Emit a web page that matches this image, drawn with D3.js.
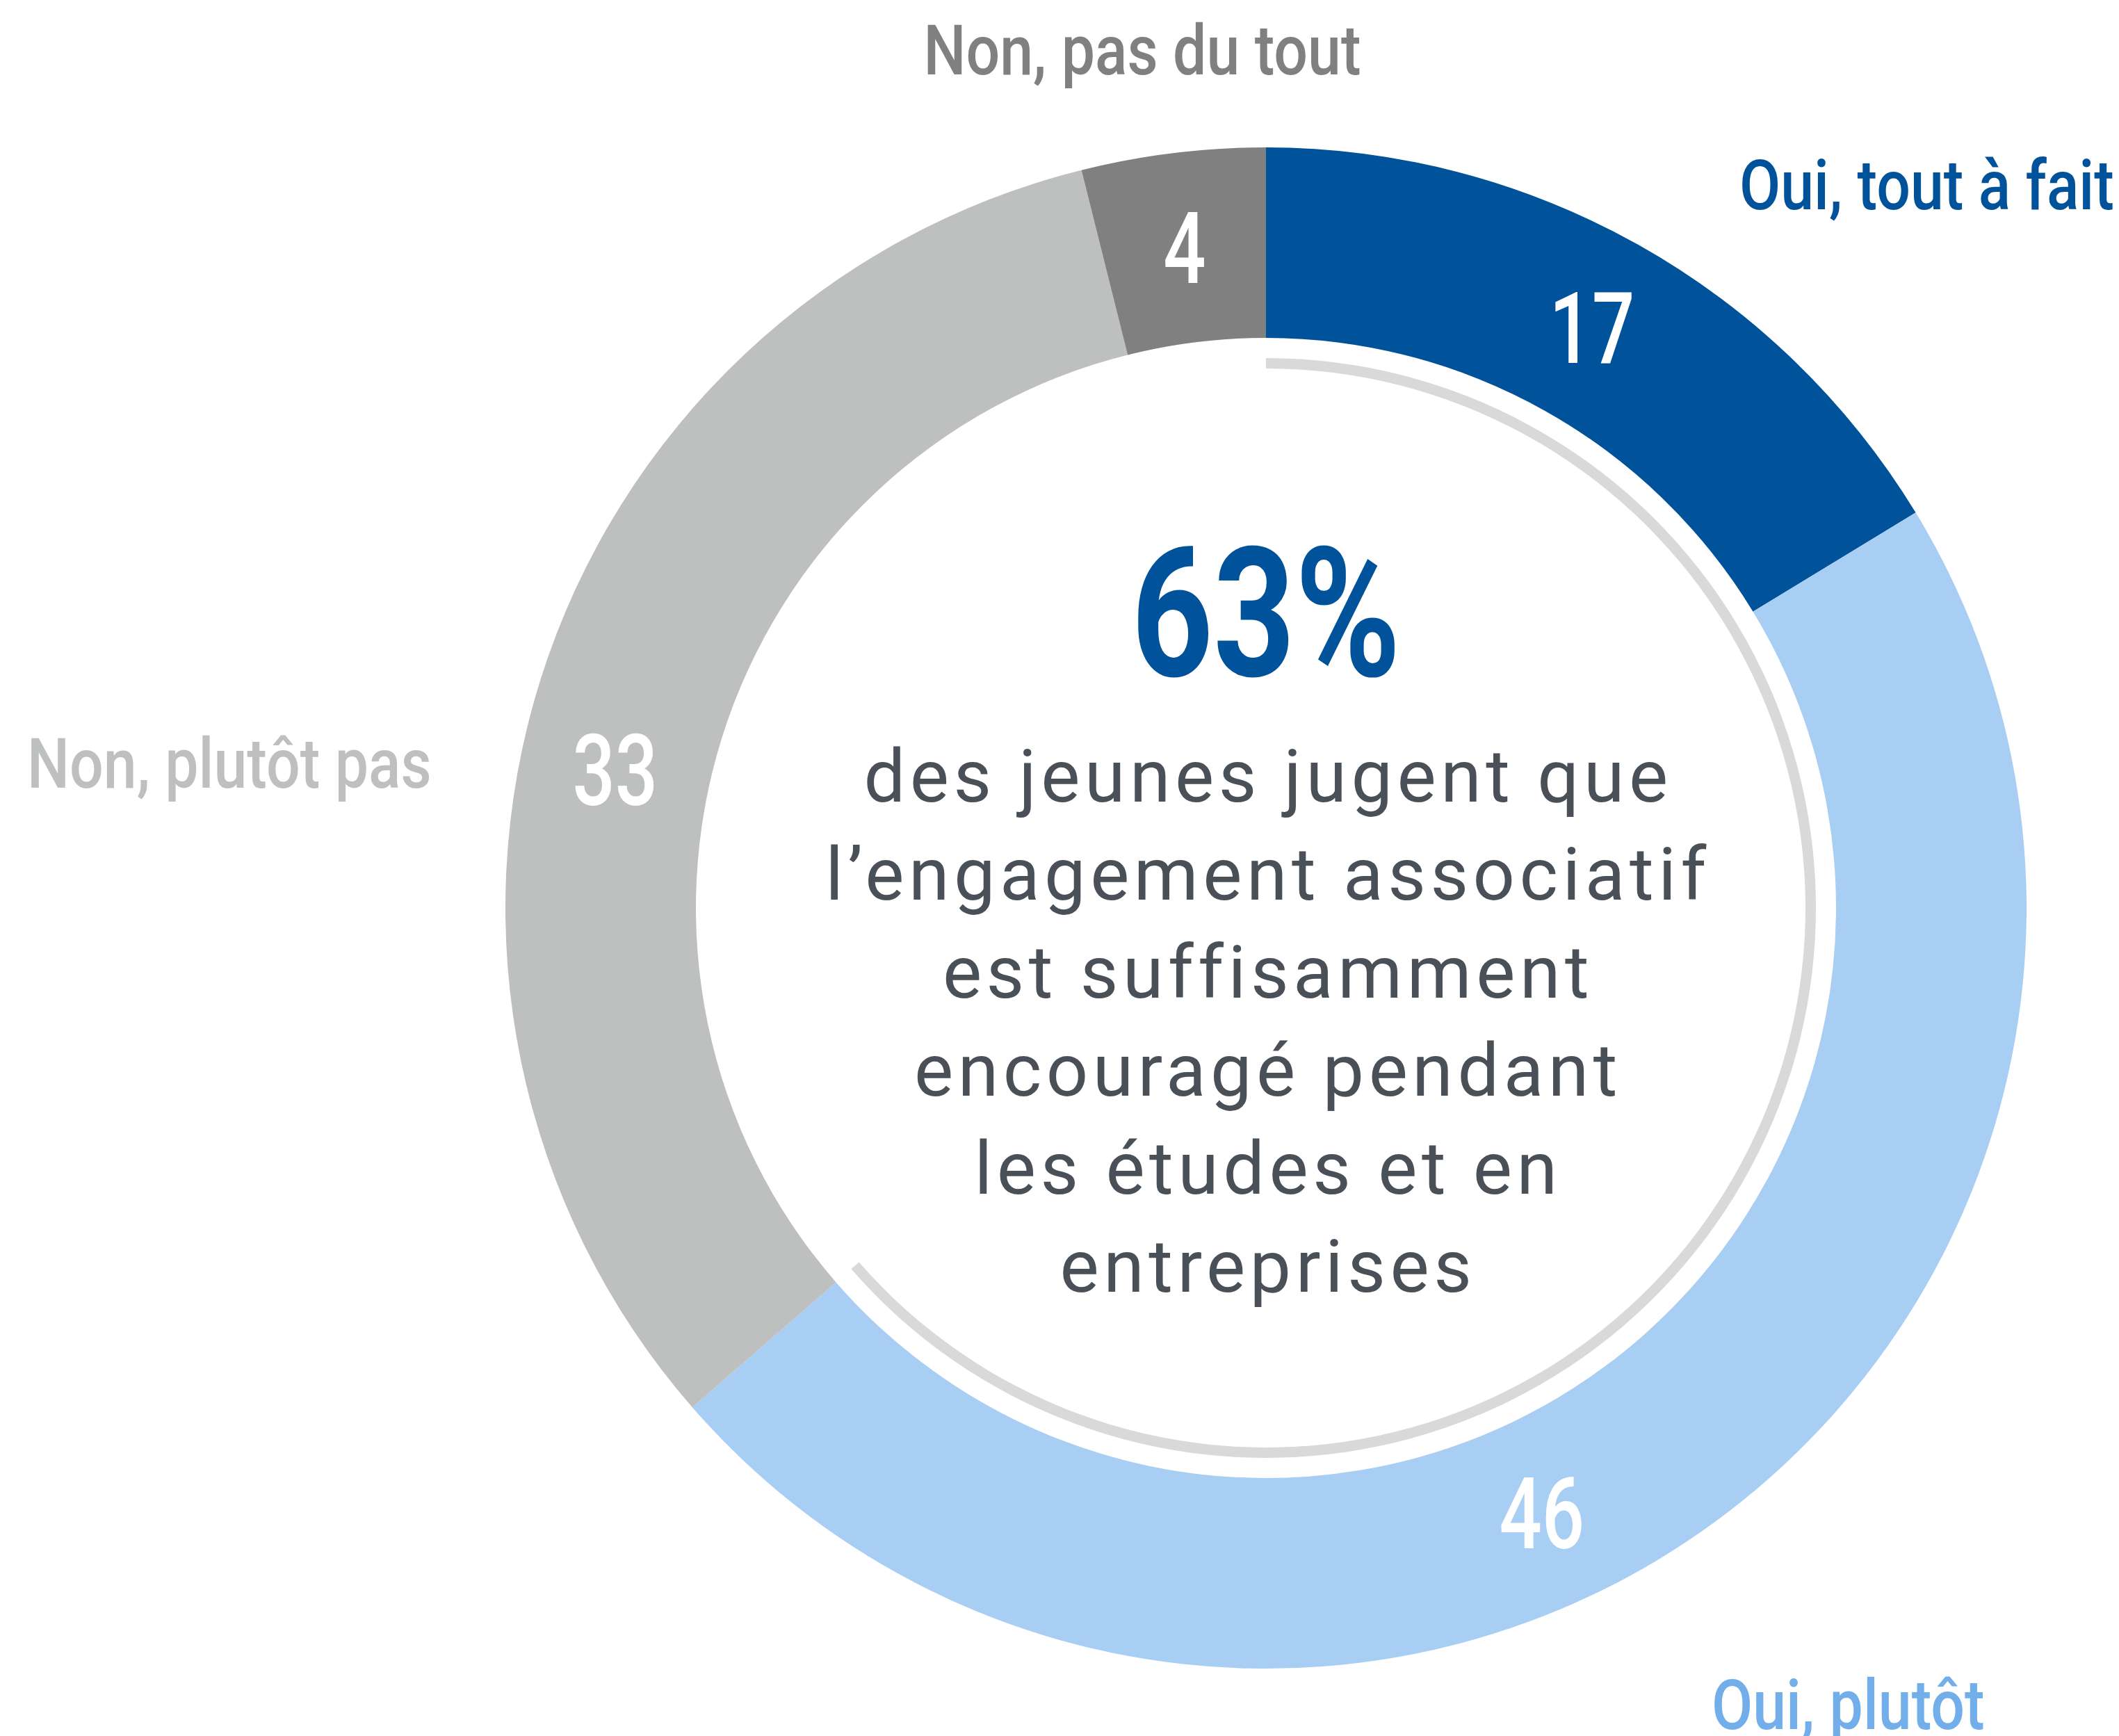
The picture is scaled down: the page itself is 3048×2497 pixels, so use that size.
<!DOCTYPE html>
<html>
<head>
<meta charset="utf-8">
<script src="https://cdn.jsdelivr.net/npm/d3@7"></script>
<style>
  html, body { margin: 0; padding: 0; background: #fff; }
  svg { display: block; }
</style>
</head>
<body>
<svg id="chart" width="3048" height="2497"></svg>
<script>
// answers, clockwise from 12 o'clock
const categories = ["Oui, tout à fait", "Oui, plutôt", "Non, plutôt pas", "Non, pas du tout"];
const values = [17, 46, 33, 4];                 // printed labels
const shares = [16.3, 47.3, 32.5, 3.9];         // unrounded shares
const sliceColors = ["#00539b", "#a9cef3", "#bec0bf", "#808080"];
const labelColors = ["#00539b", "#72afea", "#bec0bf", "#808080"];
const headline = "63%";
const bodyLines = [
    "des jeunes jugent que",
    "l\u2019engagement associatif",
    "est suffisamment",
    "encouragé pendant",
    "les études et en",
    "entreprises"
];

const width = 3048, height = 2497;
const cx = 1821, cy = 1306;
const outerR = 1094, innerR = 820;
const condensed = "Roboto, sans-serif";

const svg = d3.select("#chart");
const g = svg.append("g").attr("transform", `translate(${cx},${cy})`);

const pie = d3.pie().sort(null).value(d => d.share);
const arc = d3.arc().innerRadius(innerR).outerRadius(outerR);

const data = categories.map((c, i) => ({name: c, value: values[i], share: shares[i], color: sliceColors[i]}));
const arcs = pie(data);

g.selectAll("path.slice")
    .data(arcs)
    .enter().append("path")
    .attr("class", "slice")
    .attr("d", arc)
    .attr("fill", d => d.data.color);

// value labels; some sit a bit off the slice middle in the original
const labelNudge = {"Oui, plutôt": 0.204, "Non, plutôt pas": -0.096};
g.selectAll("text.value")
    .data(arcs)
    .enter().append("text")
    .attr("class", "value")
    .attr("transform", d => {
        let a = (d.startAngle + d.endAngle) / 2 + (labelNudge[d.data.name] || 0);
        let r = (innerR + outerR) / 2;
        return `translate(${Math.sin(a) * r},${-Math.cos(a) * r}) scale(0.76,1)`;
    })
    .attr("text-anchor", "middle")
    .attr("dy", "0.355em")
    .style("font-family", condensed)
    .style("font-weight", "500")
    .style("font-size", "142px")
    .attr("fill", "#fff")
    .text(d => d.data.value);

// thin grey arc running over the "oui" part
const yesEnd = arcs[1].endAngle;
g.append("path")
    .attr("d", d3.arc()
        .innerRadius(776)
        .outerRadius(791)
        .startAngle(0)
        .endAngle(yesEnd))
    .attr("fill", "#d9d9d9");

// category labels
const labelPos = {
    "Non, pas du tout": {x: 1643, y: 107, anchor: "middle"},
    "Oui, tout à fait": {x: 2502, y: 301, anchor: "start"},
    "Non, plutôt pas": {x: 39, y: 1133, anchor: "start"},
    "Oui, plutôt": {x: 2462, y: 2487, anchor: "start"}
};
svg.selectAll("text.cat")
    .data(data)
    .enter().append("text")
    .attr("class", "cat")
    .attr("transform", d => `translate(${labelPos[d.name].x},${labelPos[d.name].y}) scale(0.86,1)`)
    .attr("text-anchor", d => labelPos[d.name].anchor)
    .style("font-family", condensed)
    .style("font-weight", "500")
    .style("font-size", "100px")
    .attr("fill", (d, i) => labelColors[i])
    .text(d => d.name);

// centre text
g.append("text")
    .attr("transform", `translate(0,${972 - cy}) scale(0.79,1)`)
    .attr("text-anchor", "middle")
    .style("font-family", condensed)
    .style("font-weight", "700")
    .style("font-size", "260px")
    .attr("fill", "#00539b")
    .text(headline);

g.selectAll("text.body")
    .data(bodyLines)
    .enter().append("text")
    .attr("class", "body")
    .attr("x", 3)
    .attr("y", (d, i) => 1153 - cy + i * 141)
    .attr("text-anchor", "middle")
    .style("font-family", "Roboto, sans-serif")
    .style("font-weight", "400")
    .style("font-size", "106px")
    .style("letter-spacing", "6.5px")
    .attr("fill", "#4a5057")
    .text(d => d);
</script>
</body>
</html>
